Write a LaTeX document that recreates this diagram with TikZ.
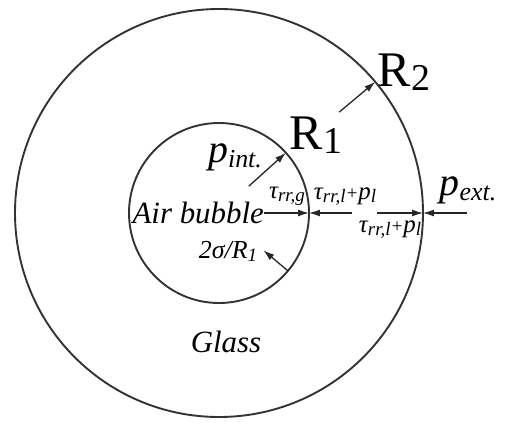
\documentclass[tikz,border=0pt]{standalone}
\usepackage{fontspec}
\setmainfont{Liberation Serif}
\usetikzlibrary{arrows.meta,calc}

\newcommand{\fs}[1]{\fontsize{#1}{#1}\selectfont}
\newcommand{\lowsub}[3]{#1\raisebox{-#3}{#2}}

\tikzset{
  wall/.style={line width=1.9pt, black!80},
  force/.style={line width=1.3pt, black!85, -{Latex[length=11pt,width=7pt]}},
  lbl/.style={inner sep=0pt, font=\itshape},
}

\begin{document}
\begin{tikzpicture}[x=1bp,y=1bp]
    \useasboundingbox (0,0) rectangle (505,425);

    % glass shell and bubble
    \coordinate (O) at (219,212);
    \draw [wall] (O) circle (204);
    \draw [wall] (O) circle (90);

    \coordinate (ir) at ($(O)+(0:90)$);
    \coordinate (or) at ($(O)+(0:204)$);

    % labels
    \node [lbl, anchor=east] (bubble) at (264,212) {\fs{31}Air bubble};
    \node [lbl] (glass) at (226,83) {\fs{31}Glass};
    \node [inner sep=0pt] (R1) at (316,290) {\fs{50}R\raisebox{-4pt}{\fs{38}1}};
    \node [inner sep=0pt] (R2) at (404,353) {\fs{50}R\raisebox{-4pt}{\fs{38}2}};
    \node [lbl] (pint) at (235,268) {\lowsub{\fs{40}p}{\fs{26}int.}{5pt}};
    \node [lbl] (pext) at (468,235) {\lowsub{\fs{40}p}{\fs{26}ext.}{5pt}};
    \node [lbl] (tg) at (287,229) {\lowsub{\fs{25}τ}{\fs{19}rr,g}{3pt}};
    \node [lbl] (tl1) at (345,228) {\lowsub{\fs{25}τ}{\fs{19}rr,l}{3pt}\fs{19}+\lowsub{\fs{25}p}{\fs{19}l}{3pt}};
    \node [lbl] (tl2) at (390,195) {\lowsub{\fs{25}τ}{\fs{19}rr,l}{3pt}\fs{19}+\lowsub{\fs{25}p}{\fs{19}l}{3pt}};
    \node [lbl] (sig) at (228,174) {\fs{26}2σ/R\raisebox{-3pt}{\fs{19}1}};

    % radii
    \draw [force] ($(O)+(42:40)$) -- ($(O)+(42:90)$);
    \draw [force] ($(O)+(40:157)$) -- ($(O)+(40:204)$);
    \draw [force] ($(O)+(-40:90)$) -- ($(O)+(-40:58)$);

    % normal stresses
    \coordinate (a2) at (352,212);
    \coordinate (a3) at (377,212);
    \coordinate (a4) at (467,212);
    \draw [force] (bubble.east) -- (ir);
    \draw [force] (a2) -- (ir);
    \draw [force] (a3) -- (or);
    \draw [force] (a4) -- (or);
\end{tikzpicture}
\end{document}
